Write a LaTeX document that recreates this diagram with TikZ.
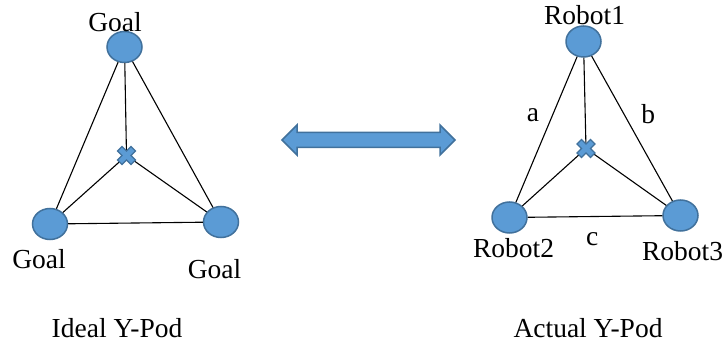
\documentclass[tikz,border=0pt]{standalone}
\usepackage{fontspec}
\setmainfont{Liberation Serif}
\usetikzlibrary{positioning, shapes.geometric}

\definecolor{podblue}{HTML}{5B9BD5}
\definecolor{podedge}{HTML}{41719C}

% centroid mark, a fat x
\newcommand{\podcross}[1]{%
	\draw[crossmark,shift={(#1)},rotate=45]
		(-3.2,-9.5) -- (3.2,-9.5) -- (3.2,-3.2) -- (9.5,-3.2) -- (9.5,3.2) -- (3.2,3.2)
		-- (3.2,9.5) -- (-3.2,9.5) -- (-3.2,3.2) -- (-9.5,3.2) -- (-9.5,-3.2) -- (-3.2,-3.2) -- cycle;
}

\begin{document}
\begin{tikzpicture}[
	x=0.5pt,
	y=-0.5pt,
	font=\fontsize{13.75}{16}\selectfont,
	every node/.style={inner sep=0pt},
	pod/.style={ellipse, draw=podedge, line width=0.75pt, fill=podblue,
		minimum width=17.5pt, minimum height=15.5pt},
	link/.style={line width=0.55pt},
	crossmark/.style={draw=podedge, line width=0.6pt, fill=podblue},
	swaparrow/.style={draw=podedge, line width=0.75pt, fill=podblue}
]
\useasboundingbox (0,0) rectangle (726,346);

% ideal
\coordinate (ic) at (126.5,155.5);
\node[pod] (g1) at (124.5,47)  {};
\node[pod] (g2) at (50,224)    {};
\node[pod] (g3) at (221,222)   {};
\node (g1lab) at (115,22)    {Goal};
\node (g2lab) at (39,258.6)  {Goal};
\node (g3lab) at (214.5,268.6) {Goal};

\path[link] (g1) edge (g2)
		edge (g3)
		edge (ic)
	(g2) edge (g3)
		edge (ic)
	(g3) edge (ic);
\podcross{ic}

% actual
\coordinate (ac) at (586,148.5);
\node[pod] (r1) at (583.5,41.5) {};
\node[pod] (r2) at (509.5,217.5) {};
\node[pod] (r3) at (680.5,215.5) {};
\node (r1lab) at (584.5,15.6)  {Robot1};
\node (r2lab) at (513.5,247.6) {Robot2};
\node (r3lab) at (682.5,250.6) {Robot3};

\path[link] (r1) edge node [pos=0.40,left=6.5pt] {a} (r2)
		edge node [pos=0.40,right=8.5pt] {b} (r3)
		edge (ac)
	(r2) edge node [pos=0.48,below=7.6pt] {c} (r3)
		edge (ac)
	(r3) edge (ac);
\podcross{ac}

% two-way arrow
\draw[swaparrow] (282,140) -- (297,125) -- (297,132.5) -- (440,132.5) -- (440,125)
	-- (455,140) -- (440,155) -- (440,147.5) -- (297,147.5) -- (297,155) -- cycle;

\node (idealcap)  at (117,327.6) {Ideal Y-Pod};
\node (actualcap) at (588,327.6) {Actual Y-Pod};
\end{tikzpicture}
\end{document}
